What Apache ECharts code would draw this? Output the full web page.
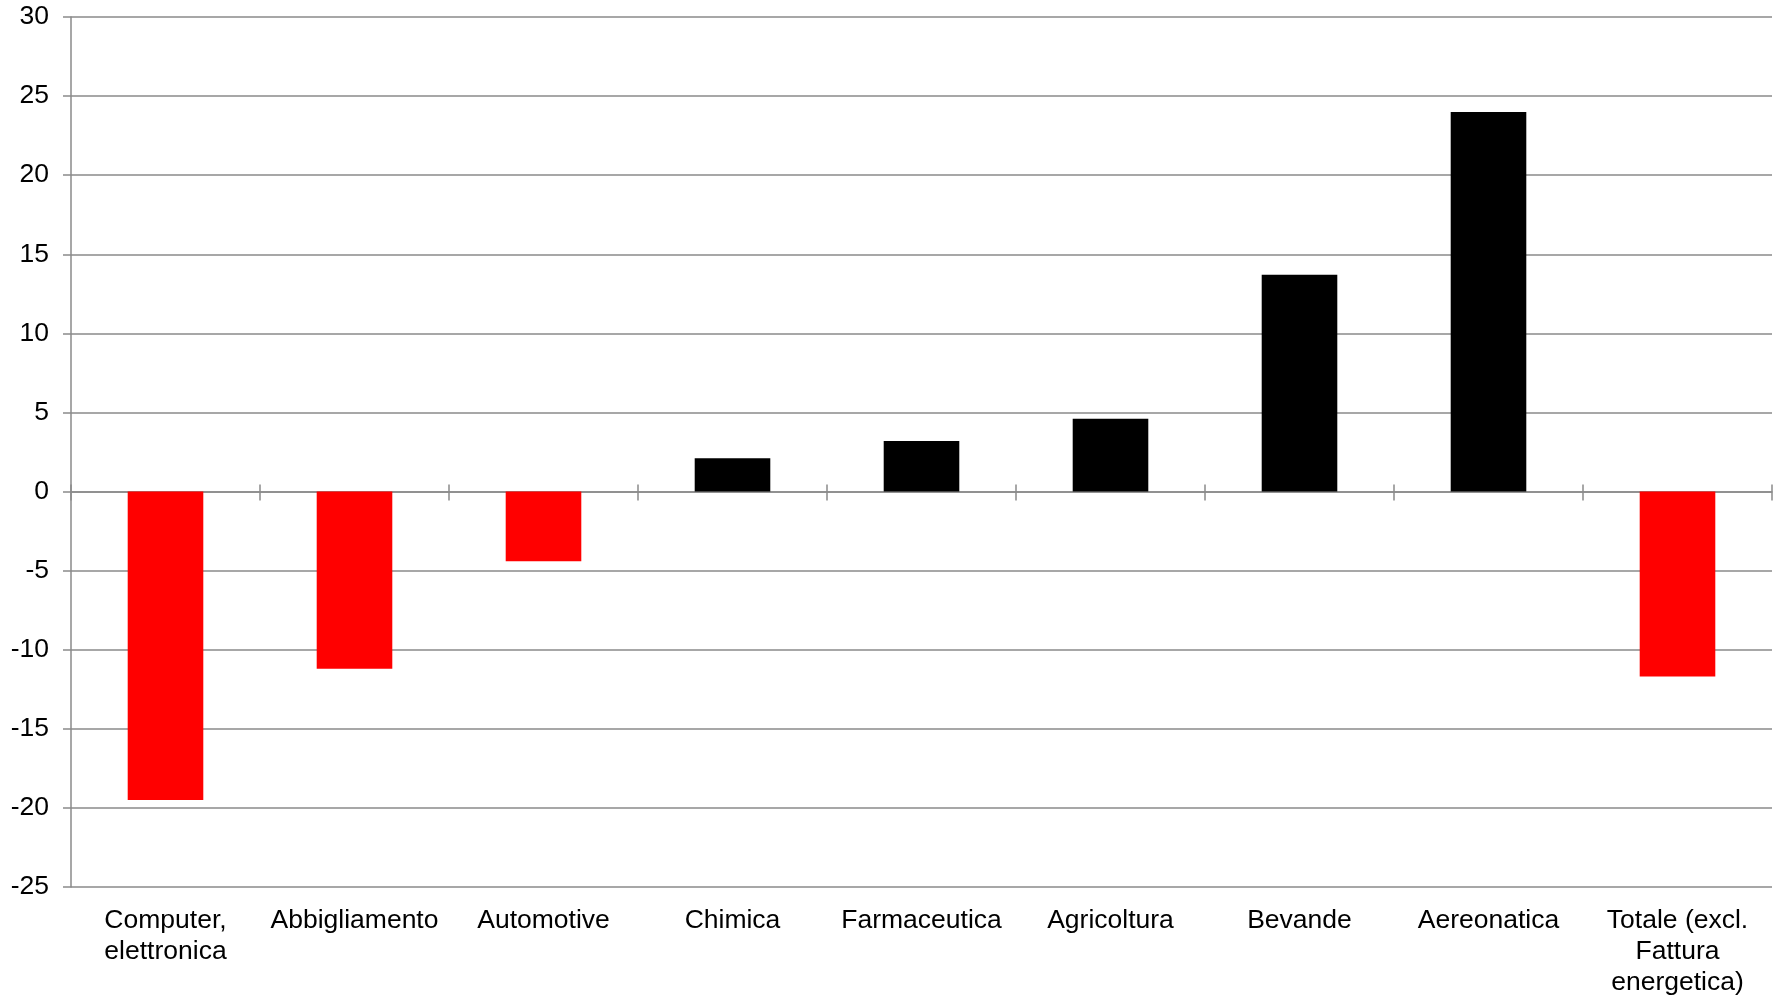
<!DOCTYPE html>
<html>
<head>
<meta charset="utf-8">
<script src="https://cdn.jsdelivr.net/npm/echarts@6/dist/echarts.min.js"></script>
<style>
html,body{margin:0;padding:0;background:#fff;}
#chart{width:1779px;height:998px;}
</style>
</head>
<body>
<div id="chart"></div>
<script>
const categories = ['Computer,\nelettronica', 'Abbigliamento', 'Automotive', 'Chimica', 'Farmaceutica', 'Agricoltura', 'Bevande', 'Aereonatica', 'Totale (excl.\nFattura\nenergetica)'];
const values = [-19.5, -11.2, -4.4, 2.1, 3.2, 4.6, 13.7, 24.0, -11.7];
const yMin = -25, yMax = 30, yStep = 5;

const gray = '#8a8a8a';
const font = '"Liberation Sans", Arial, sans-serif';
const gridBox = { left: 71, right: 7, top: 17, bottom: 111, containLabel: false };

const chart = echarts.init(document.getElementById('chart'));
chart.setOption({
  animation: false,
  backgroundColor: '#fff',
  grid: [Object.assign({}, gridBox), Object.assign({}, gridBox)],
  xAxis: [
    {
      type: 'category', data: categories, position: 'bottom', gridIndex: 0,
      axisLine: { show: false, onZero: false },
      axisTick: { show: false },
      axisLabel: { color: '#000', fontFamily: font, fontSize: 26.5, lineHeight: 31, margin: 18, interval: 0 }
    },
    {
      type: 'category', data: categories, position: 'bottom', gridIndex: 0,
      axisLine: { show: true, onZero: true, lineStyle: { color: gray, width: 1.5 } },
      axisTick: { show: true, length: 9, interval: 0, lineStyle: { color: gray, width: 1.5 } },
      axisLabel: { show: false }
    },
    {
      type: 'category', data: categories, position: 'bottom', gridIndex: 1,
      axisLine: { show: false, onZero: true },
      axisTick: { show: true, inside: true, length: 7, interval: 0, lineStyle: { color: gray, width: 1.5 } },
      axisLabel: { show: false }
    }
  ],
  yAxis: [
    {
      type: 'value', min: yMin, max: yMax, interval: yStep, gridIndex: 0,
      axisLine: { show: true, lineStyle: { color: gray, width: 1.5 } },
      axisTick: { show: true, length: 8, lineStyle: { color: gray, width: 1.5 } },
      axisLabel: { color: '#000', fontFamily: font, fontSize: 26.5, margin: 22 },
      splitLine: { show: true, lineStyle: { color: gray, width: 1.5 } }
    },
    {
      type: 'value', min: yMin, max: yMax, interval: yStep, gridIndex: 1,
      axisLine: { show: false }, axisTick: { show: false },
      axisLabel: { show: false }, splitLine: { show: false }
    }
  ],
  series: [{
    type: 'bar',
    xAxisIndex: 0,
    yAxisIndex: 0,
    data: values,
    barWidth: '40%',
    z: 3,
    itemStyle: {
      color: function (p) { return p.value < 0 ? '#ff0000' : '#000000'; }
    }
  }]
});
</script>
</body>
</html>
